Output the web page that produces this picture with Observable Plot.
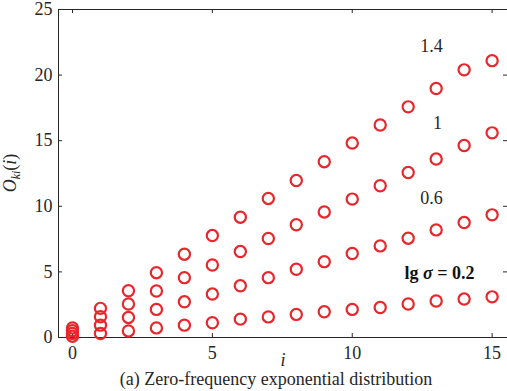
<!DOCTYPE html>
<html>
<head>
<meta charset="utf-8">
<script src="https://cdn.jsdelivr.net/npm/d3@7"></script>
<script src="https://cdn.jsdelivr.net/npm/@observablehq/plot@0.6"></script>
<style>
  html, body { margin: 0; padding: 0; background: #fff; }
</style>
</head>
<body>
<div id="chart"></div>
<script>
// ---- data ----
const iValues = [0,1,2,3,4,5,6,7,8,9,10,11,12,13,14,15];
const seriesNames = ["0.2", "0.6", "1", "1.4"];
const s02 = [0.10,0.31,0.50,0.73,0.94,1.12,1.40,1.57,1.76,1.96,2.14,2.29,2.55,2.78,2.93,3.10];
const s06 = [0.31,0.94,1.53,2.14,2.72,3.31,3.94,4.56,5.20,5.78,6.40,6.98,7.57,8.20,8.76,9.35];
const s10 = [0.52,1.58,2.55,3.54,4.56,5.53,6.55,7.55,8.59,9.57,10.55,11.57,12.58,13.60,14.63,15.60];
const s14 = [0.73,2.22,3.56,4.94,6.35,7.77,9.17,10.60,11.97,13.40,14.82,16.20,17.58,18.98,20.40,21.10];
const xTicks = [0, 5, 10, 15];
const yTicks = [0, 5, 10, 15, 20, 25];
const xDomain = [-0.5, 15.55];
const yDomain = [0, 25];
// curve labels (text and anchor point in data units)
const labelText = ["1.4", "1", "0.6"];
const labelX = [12.83, 13.05, 12.83];
const labelY = [22.2, 16.35, 10.63];
const sigmaLabel = "lg σ = 0.2";
const sigmaX = [13.12];
const sigmaY = [4.9];
const xLabel = "i";
const caption = "(a) Zero-frequency exponential distribution";

const seriesValues = [s02, s06, s10, s14];
const points = [];
seriesValues.forEach((vals, k) => vals.forEach((v, j) => points.push({series: seriesNames[k], i: iValues[j], v})));
const labels = labelText.map((t, k) => ({t, x: labelX[k], y: labelY[k]}));
const sigmaLabels = [{t: sigmaLabel, x: sigmaX[0], y: sigmaY[0]}];

const ink = "#262626";
const red = "#e8262b";
const W = 507, H = 391, mL = 58, mR = 0, mT = 9, mB = 54;
const fw = W - mL - mR, fh = H - mT - mB;

const svg = Plot.plot({
  width: W, height: H,
  marginLeft: mL, marginRight: mR, marginTop: mT, marginBottom: mB,
  style: {fontFamily: "'Liberation Serif', 'Times New Roman', serif", fontSize: "18px", color: ink, background: "#fff"},
  x: {domain: xDomain, ticks: xTicks, label: null},
  y: {domain: yDomain, ticks: yTicks, label: null},
  marks: [
    // tick labels
    Plot.axisX(xTicks, {tickSize: 0, tickPadding: 9, fontSize: 18, fill: ink, label: null}),
    Plot.axisY(yTicks, {tickSize: 0, tickPadding: 6, fontSize: 18, fill: ink, label: null}),
    // inward tick marks (bottom, top, left, right)
    Plot.tickX(xTicks, {x: d => d, stroke: ink, insetTop: fh - 4}),
    Plot.tickX(xTicks, {x: d => d, stroke: ink, insetBottom: fh - 4}),
    Plot.tickY(yTicks, {y: d => d, stroke: ink, insetRight: fw - 4}),
    Plot.tickY(yTicks, {y: d => d, stroke: ink, insetLeft: fw - 4}),
    // axis lines
    Plot.ruleX([xDomain[0]], {stroke: ink}),
    Plot.ruleY([yDomain[0]], {stroke: ink}),
    Plot.ruleY([yDomain[1]], {stroke: ink}),
    // data
    Plot.dot(points, {x: "i", y: "v", r: 5.6, stroke: red, strokeWidth: 2.2, fill: "none"}),
    // curve labels
    Plot.text(labels, {x: "x", y: "y", text: "t", fontSize: 18, fill: ink}),
    Plot.text(sigmaLabels, {x: "x", y: "y", text: "t", fontSize: 18, fontWeight: "bold", fill: "#111"}),
    // x label and caption
    Plot.text([xLabel], {frameAnchor: "bottom", dy: 28, text: d => d, fontSize: 18, fontStyle: "italic", fill: ink}),
    Plot.text([caption], {frameAnchor: "bottom", dy: 47, dx: -7, text: d => d, fontSize: 18, fill: ink})
  ]
});

// italic sigma in the sigma label
d3.select(svg).selectAll("text").each(function() {
  const t = this.textContent;
  if (t === sigmaLabel) {
    const el = d3.select(this);
    el.text(null);
    el.append("tspan").text("lg ");
    el.append("tspan").attr("font-style", "italic").text("σ");
    el.append("tspan").text(" = 0.2");
  }
});

// y label O_ki(i)
const yl = d3.select(svg).append("text")
  .attr("transform", `translate(16,${mT + fh / 2}) rotate(-90)`)
  .attr("text-anchor", "middle")
  .attr("fill", ink)
  .attr("font-size", 18)
  .attr("font-family", "'Liberation Serif', 'Times New Roman', serif");
yl.append("tspan").attr("font-style", "italic").text("O");
yl.append("tspan").attr("font-style", "italic").attr("font-size", 12).attr("dy", 4).text("ki");
yl.append("tspan").attr("dy", -4).text("(");
yl.append("tspan").attr("font-style", "italic").text("i");
yl.append("tspan").text(")");

document.getElementById("chart").appendChild(svg);
</script>
</body>
</html>
